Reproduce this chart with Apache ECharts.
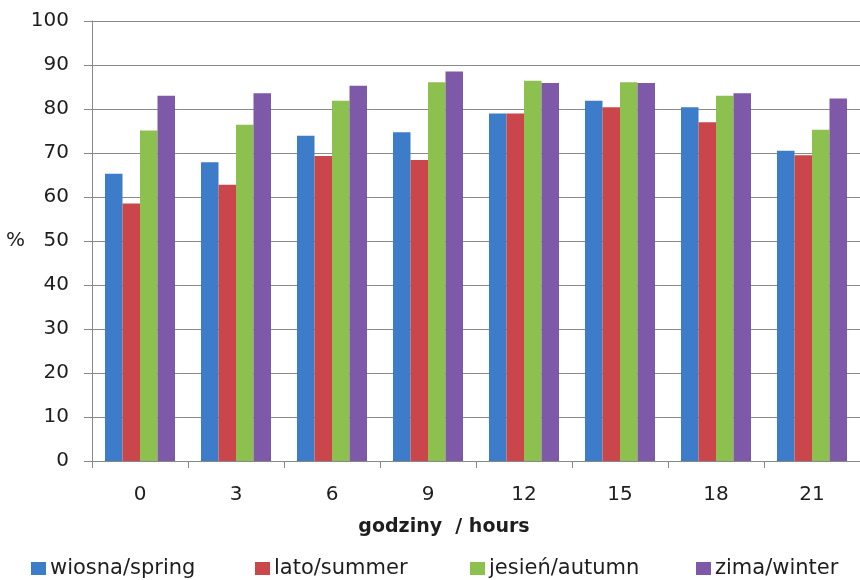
<!DOCTYPE html>
<html>
<head>
<meta charset="utf-8">
<script src="https://cdn.jsdelivr.net/npm/echarts@6/dist/echarts.min.js"></script>
<style>
  html, body { margin: 0; padding: 0; background: #fff; }
  #chart { width: 860px; height: 580px; }
</style>
</head>
<body>
<div id="chart"></div>
<script>
// Hours of the day (categories)
const hours = ['0', '3', '6', '9', '12', '15', '18', '21'];

// Seasonal values, %
const spring = [65.3, 67.9, 73.9, 74.7, 79.0, 81.9, 80.4, 70.5];
const summer = [58.5, 62.8, 69.3, 68.4, 79.0, 80.4, 77.0, 69.5];
const autumn = [75.1, 76.4, 81.9, 86.1, 86.4, 86.1, 83.0, 75.3];
const winter = [83.0, 83.6, 85.3, 88.5, 85.9, 85.9, 83.6, 82.4];

const seriesNames = ['wiosna/spring', 'lato/summer', 'jesień/autumn', 'zima/winter'];
const seriesColors = ['#3d7cc9', '#c9464b', '#8cc04f', '#7d59a8'];
const seriesData = [spring, summer, autumn, winter];

const FONT = 'DejaVu Sans';
const legendLefts = [31, 255, 470, 696];

const chart = echarts.init(document.getElementById('chart'), null, { renderer: 'canvas' });

chart.setOption({
  animation: false,
  backgroundColor: '#ffffff',
  textStyle: { fontFamily: FONT, color: '#1e1e1e' },
  grid: { left: 92, top: 21, width: 776, height: 440, containLabel: false },
  legend: seriesNames.map((name, i) => ({
    data: [name],
    left: legendLefts[i],
    top: 558,
    padding: 0,
    itemWidth: 15,
    itemHeight: 13,
    icon: 'rect',
    textStyle: { fontFamily: FONT, fontSize: 21, color: '#1e1e1e', padding: [0, 0, 0, -1] }
  })),
  xAxis: {
    type: 'category',
    data: hours,
    name: 'godziny  / hours',
    nameLocation: 'middle',
    nameGap: 57,
    nameTextStyle: {
      fontFamily: FONT, fontSize: 19, fontWeight: 'bold', color: '#1e1e1e',
      padding: [0, 64, 0, 0]
    },
    axisLine: { lineStyle: { color: '#888', width: 1 } },
    axisTick: { show: true, length: 7, lineStyle: { color: '#888' } },
    axisLabel: { fontFamily: FONT, fontSize: 20, color: '#1e1e1e', margin: 24 }
  },
  yAxis: {
    type: 'value',
    min: 0,
    max: 100,
    interval: 10,
    name: '%',
    nameLocation: 'middle',
    nameRotate: 0,
    nameGap: 63,
    nameTextStyle: { fontFamily: FONT, fontSize: 20, color: '#1e1e1e' },
    axisLine: { show: true, lineStyle: { color: '#888', width: 1 } },
    axisTick: { show: true, length: 8, lineStyle: { color: '#888' } },
    axisLabel: { fontFamily: FONT, fontSize: 20, color: '#1e1e1e', margin: 23 },
    splitLine: { show: true, lineStyle: { color: '#8a8a8a', width: 1 } }
  },
  series: seriesNames.map((name, i) => ({
    name: name,
    type: 'bar',
    data: seriesData[i],
    barWidth: 17.5,
    barGap: '0%',
    barCategoryGap: '28%',
    itemStyle: { color: seriesColors[i] }
  }))
});
</script>
</body>
</html>
